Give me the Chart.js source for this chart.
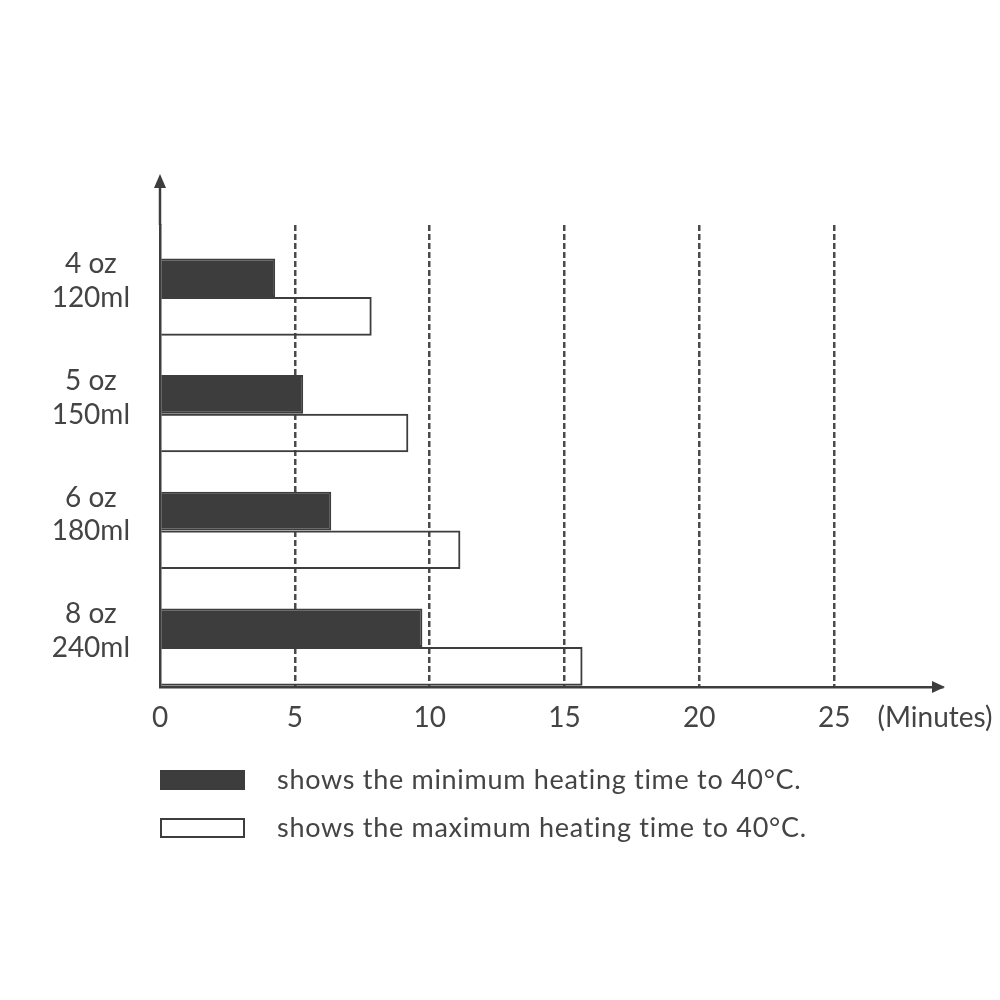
<!DOCTYPE html>
<html>
<head>
<meta charset="utf-8">
<title>Heating time</title>
<script src="https://cdn.jsdelivr.net/npm/chart.js@4"></script>
<style>
  body { margin: 0; background: #fff; }
  canvas { display: block; }
</style>
</head>
<body>
<canvas id="chart" width="1000" height="1000"></canvas>
<script>
// bottle sizes, top to bottom
var sizeLabels = [['4 oz', '120ml'], ['5 oz', '150ml'], ['6 oz', '180ml'], ['8 oz', '240ml']];
// minutes to reach 40°C
var minTimes = [4.27, 5.31, 6.35, 9.73];
var maxTimes = [7.85, 9.21, 11.14, 15.67];
var timeTicks = [0, 5, 10, 15, 20, 25];
var unitLabel = '(Minutes)';
var legendTexts = ['shows the minimum heating time to 40\u00b0C.', 'shows the maximum heating time to 40\u00b0C.'];

var ink = '#3d3d3d';
var textColor = '#444';
var fontFamily = 'Lato, "Noto Sans", sans-serif';

function toPoints(values) {
    return values.map(function (v, i) { return {x: v, y: i}; });
}

// axis arrows, unit label and the legend underneath
var extras = {
    id: 'extras',
    afterDraw: function (chart) {
        var ctx = chart.ctx;
        var area = chart.chartArea;
        ctx.save();
        ctx.strokeStyle = ink;
        ctx.fillStyle = ink;
        ctx.lineWidth = 2.5;

        // y axis runs on above the grid
        ctx.beginPath();
        ctx.moveTo(area.left, area.top);
        ctx.lineTo(area.left, area.top - 40);
        ctx.stroke();
        ctx.beginPath();
        ctx.moveTo(area.left, area.top - 51);
        ctx.lineTo(area.left - 6, area.top - 37);
        ctx.lineTo(area.left + 6, area.top - 37);
        ctx.closePath();
        ctx.fill();

        // x arrow
        ctx.beginPath();
        ctx.moveTo(area.right + 3, area.bottom);
        ctx.lineTo(area.right - 10, area.bottom - 6);
        ctx.lineTo(area.right - 10, area.bottom + 6);
        ctx.closePath();
        ctx.fill();

        ctx.fillStyle = textColor;
        ctx.font = '28px ' + fontFamily;
        ctx.textAlign = 'center';
        ctx.textBaseline = 'middle';
        ctx.fillText(unitLabel, area.right - 7, area.bottom + 31);

        // legend
        ctx.font = '27px ' + fontFamily;
        ctx.letterSpacing = '0.7px';
        ctx.textAlign = 'left';
        chart.data.datasets.forEach(function (ds, i) {
            var y = area.bottom + 83 + i * 48;
            ctx.lineWidth = 2;
            ctx.strokeStyle = ds.borderColor;
            if (i === 0) {
                ctx.fillStyle = ds.backgroundColor;
                ctx.fillRect(area.left, y, 85, 20);
            }
            ctx.strokeRect(area.left + 1, y + 1, 83, 18);
            ctx.fillStyle = textColor;
            ctx.fillText(legendTexts[i], area.left + 117, y + 10);
        });
        ctx.restore();
    }
};

new Chart(document.getElementById('chart'), {
    type: 'bar',
    data: {
        datasets: [{
            label: 'minimum',
            data: toPoints(minTimes),
            backgroundColor: ink,
            borderColor: ink,
            borderWidth: 2,
        }, {
            label: 'maximum',
            data: toPoints(maxTimes),
            backgroundColor: 'rgba(255,255,255,0)',
            borderColor: ink,
            borderWidth: 2,
        }],
    },
    options: {
        indexAxis: 'y',
        responsive: false,
        animation: false,
        categoryPercentage: 0.662,
        barPercentage: 1,
        layout: {padding: {top: 225, right: 58, bottom: 253, left: 0}},
        plugins: {legend: {display: false}, tooltip: {enabled: false}},
        scales: {
            x: {
                type: 'linear',
                min: 0,
                max: 29,
                afterBuildTicks: function (scale) {
                    scale.ticks = timeTicks.map(function (v) { return {value: v}; });
                },
                afterFit: function (scale) { scale.height = 60; },
                grid: {
                    color: function (c) { return c.tick && c.tick.value === 0 ? 'rgba(0,0,0,0)' : '#4a4a4a'; },
                    lineWidth: 2.5,
                    drawTicks: false,
                },
                // in v4 the dash here is used for the grid lines
                border: {display: true, color: ink, width: 2.5, dash: [6, 3]},
                ticks: {
                    color: textColor,
                    padding: 14,
                    font: {family: fontFamily, size: 28},
                    maxRotation: 0,
                },
            },
            y: {
                type: 'linear',
                offset: false,
                reverse: true,
                min: -0.617,
                max: 3.342,
                afterFit: function (scale) { scale.width = 160; },
                grid: {display: false},
                border: {display: true, color: ink, width: 2.5},
                ticks: {
                    stepSize: 1,
                    includeBounds: false,
                    color: textColor,
                    padding: 22,
                    crossAlign: 'center',
                    labelOffset: -16,
                    font: {family: fontFamily, size: 28, lineHeight: 1.2},
                    callback: function (v) {
                        return Number.isInteger(v) ? sizeLabels[v] : '';
                    },
                },
            },
        },
    },
    plugins: [extras],
});
</script>
</body>
</html>
